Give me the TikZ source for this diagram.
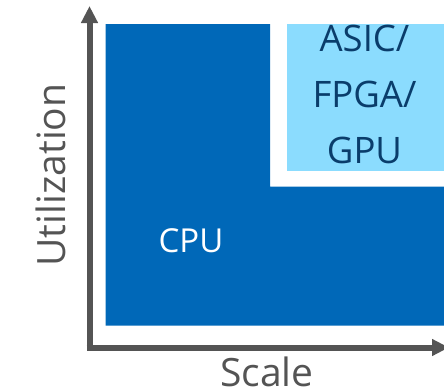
\documentclass[tikz,border=0pt]{standalone}
\usepackage{fontspec}
\setmainfont{Open Sans}
\usetikzlibrary{arrows.meta}
\definecolor{cpublue}{HTML}{0068B8}
\definecolor{accblue}{HTML}{8BDCFE}
\definecolor{navy}{HTML}{0A3D6B}
\definecolor{axisgray}{HTML}{545454}
\tikzset{
  axis/.style={draw=axisgray, line width=6pt, line join=miter,
    -{Triangle[length=17pt,width=16pt]}},
  axislabel/.style={text=axisgray, font=\fontsize{39}{39}\selectfont, inner sep=0pt, anchor=base},
  cpulabel/.style={text=white, font=\fontsize{33}{33}\selectfont, inner sep=0pt, anchor=base},
  acclabel/.style={text=navy, font=\fontsize{36.5}{36.5}\selectfont, inner sep=0pt, anchor=base},
}
\begin{document}
\begin{tikzpicture}[x=1pt,y=-1pt]
\useasboundingbox (0,0) rectangle (444,391);
% CPU region (L shape)
\fill[cpublue] (105.7,24) -- (270,24) -- (270,186.7) -- (444,186.7) -- (444,325.7) -- (105.7,325.7) -- cycle;
% accelerator region
\fill[accblue] (286.7,24) rectangle (444,170.7);
% axes
\coordinate (ytip) at (89.5,6);
\coordinate (xtip) at (449,347.5);
\coordinate (origin) at (89.5,347.5);
\draw[axis] (origin) -- (ytip);
\draw[axis] ([xshift=-3pt]origin) -- (xtip);
% labels
\node[axislabel, rotate=90] (util) at (65,175) {Utilization};
\node[axislabel] (scale) at (267,386) {Scale};
\node[cpulabel] (cpu) at (191,252.3) {CPU};
\node[acclabel] (asic) at (364.5,51.7) {ASIC/};
\node[acclabel] (fpga) at (364.5,107.5) {FPGA/};
\node[acclabel] (gpu) at (364.5,163) {GPU};
\end{tikzpicture}
\end{document}
